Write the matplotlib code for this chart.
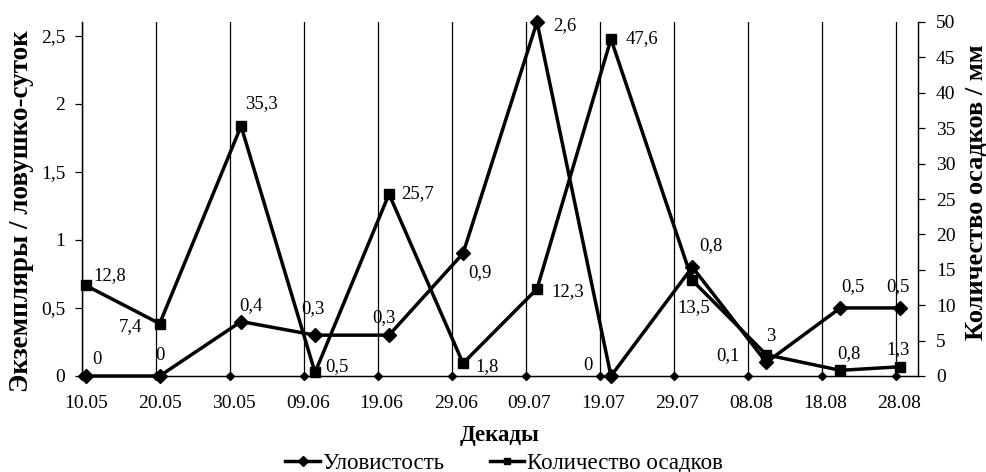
import datetime as dt
import matplotlib
matplotlib.use("Agg")
import matplotlib.pyplot as plt
from matplotlib.ticker import FuncFormatter

plt.rcParams['font.family'] = ['Liberation Serif', 'DejaVu Serif']

# decade end dates (day.month)
dates = ['10.05', '20.05', '31.05', '10.06', '20.06', '30.06',
         '10.07', '20.07', '31.07', '10.08', '20.08', '28.08']
catch = [0, 0, 0.4, 0.3, 0.3, 0.9, 2.6, 0, 0.8, 0.1, 0.5, 0.5]
rain = [12.8, 7.4, 35.3, 0.5, 25.7, 1.8, 12.3, 47.6, 13.5, 3, 0.8, 1.3]
tick_labels = ['10.05', '20.05', '30.05', '09.06', '19.06', '29.06',
               '09.07', '19.07', '29.07', '08.08', '18.08', '28.08']

# label offsets in pixels (dx, dy)
catch_off = [(11, 16), (0, 20), (10, 16), (-2, 27), (-5, 18), (17, -19),
             (28, -4), (-23, 11), (19, 21), (-38, 7), (13, 21), (-2, 21)]
rain_off = [(24, 10), (-29, -3), (20, 22), (22, 6), (28, 0), (24, -3),
            (31, -3), (31, 0), (1, -27), (4, 18), (9, 17), (-1, 17)]

def to_date(s):
    d, m = s.split('.')
    return dt.datetime(2013, int(m), int(d))

# points and labels sit in the middle of their day (Excel date axis)
half = dt.timedelta(hours=12)
x = [to_date(s) + half for s in dates]
ticks = [to_date(s) for s in tick_labels]

fig = plt.figure(figsize=(9.86, 4.72), dpi=100)
ax = fig.add_axes([82 / 986, 1 - 376 / 472, 836 / 986, 354 / 472])
ax2 = ax.twinx()

def comma(v, pos):
    return ('%g' % v).replace('.', ',')

# vertical grid
for t in ticks:
    ax.axvline(t, color='black', lw=0.9, zorder=1)

l1, = ax.plot(x, catch, color='black', lw=2.5, marker='D', ms=7, zorder=4,
              clip_on=False)
l2, = ax2.plot(x, rain, color='black', lw=2.5, marker='s', ms=6.5, zorder=4,
               clip_on=False)

# diamond tick marks on the date axis
ax.plot(ticks, [0] * len(ticks), ls='none', marker='D', ms=4.5, color='black',
        clip_on=False, zorder=5)

for xi, v, (dx, dy) in zip(x, catch, catch_off):
    ax.annotate(comma(v, None), (xi, v), xytext=(dx, dy), textcoords='offset pixels',
                ha='center', va='center', fontsize=13.5)
for xi, v, (dx, dy) in zip(x, rain, rain_off):
    ax2.annotate(comma(v, None), (xi, v), xytext=(dx, dy), textcoords='offset pixels',
                 ha='center', va='center', fontsize=13.5)

ax.set_xlim(to_date('10.05'), to_date('31.08'))
ax.set_ylim(0, 2.6)
ax2.set_ylim(0, 50)
ax.set_xticks([t + half for t in ticks])
ax.set_xticklabels(tick_labels)
ax.set_yticks([0, 0.5, 1, 1.5, 2, 2.5])
ax.yaxis.set_major_formatter(FuncFormatter(comma))
ax2.set_yticks(range(0, 51, 5))

ax.tick_params(axis='x', length=0, pad=14, labelsize=14)
ax.tick_params(axis='y', length=5, width=0.9, pad=7, labelsize=14)
ax2.tick_params(axis='y', length=5, width=0.9, pad=8, labelsize=14)

for a in (ax, ax2):
    a.spines['top'].set_visible(False)
    for s in ('left', 'right', 'bottom'):
        a.spines[s].set_linewidth(0.9)
ax.set_zorder(ax2.get_zorder() + 1)
ax.patch.set_visible(False)

ax.set_xlabel('Декады', fontsize=16.5, fontweight='bold', labelpad=9)
fig.text(22 / 986, 1 - 211 / 472, 'Экземпляры / ловушко-суток', rotation=90,
         ha='center', va='center', fontsize=19.5, fontweight='bold')
fig.text(976 / 986, 1 - 192 / 472, 'Количество осадков / мм', rotation=90,
         ha='center', va='center', fontsize=19, fontweight='bold')

fig.legend([l1, l2], ['Уловистость', 'Количество осадков'], loc='center',
           bbox_to_anchor=(504 / 986, 1 - 463 / 472), ncol=2, frameon=False,
           fontsize=16.5, handlelength=1.5, handletextpad=0.1, columnspacing=2.0,
           borderpad=0, markerscale=0.7)

fig.savefig('out.png', dpi=100)
